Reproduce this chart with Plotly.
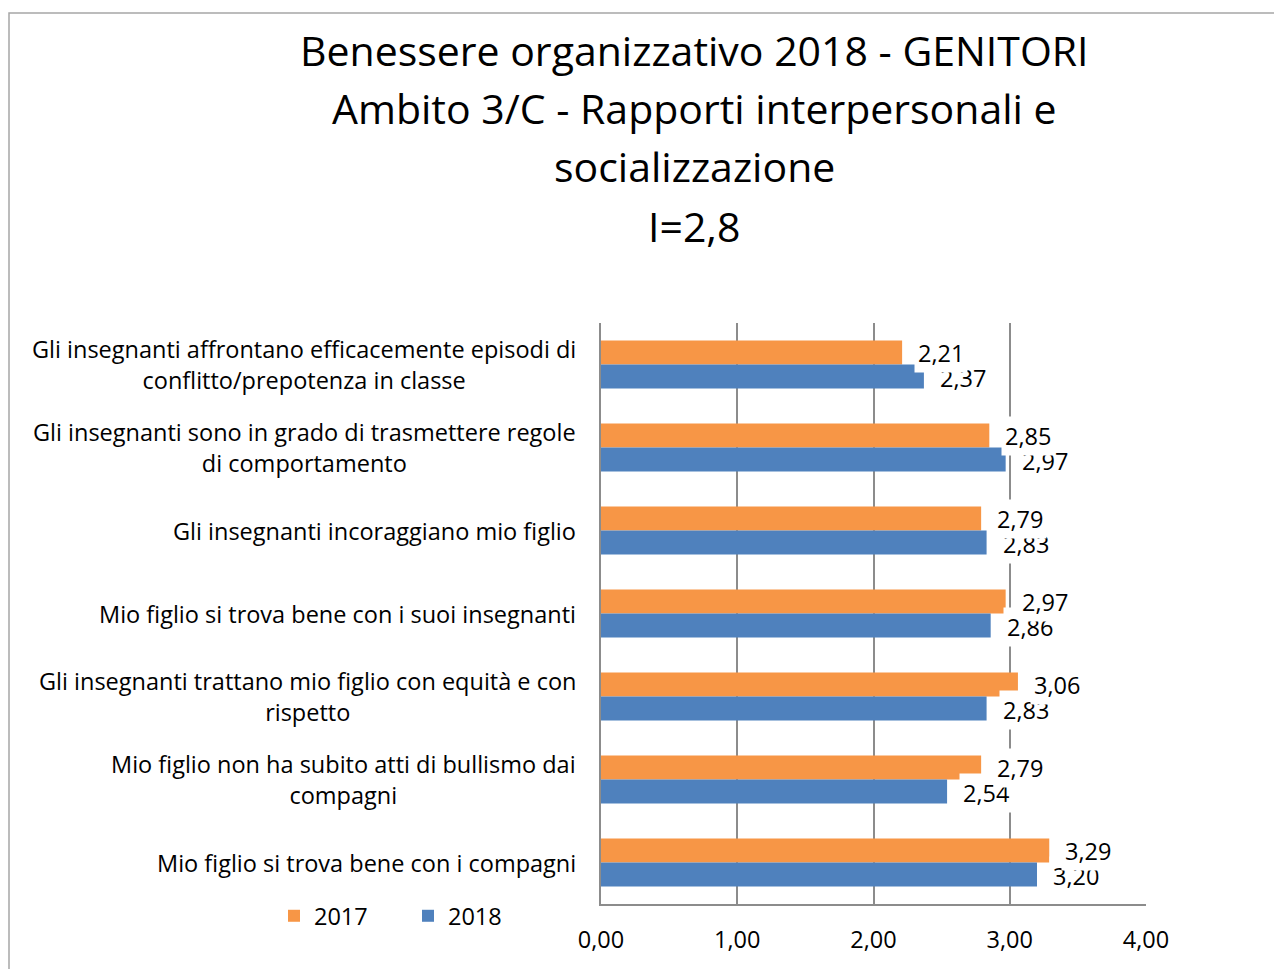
import plotly.graph_objects as go

categories = [
    "Gli insegnanti affrontano efficacemente episodi di<br>conflitto/prepotenza in classe",
    "Gli insegnanti sono in grado di trasmettere regole<br>di comportamento",
    "Gli insegnanti incoraggiano mio figlio",
    "Mio figlio si trova bene con i suoi insegnanti",
    "Gli insegnanti trattano mio figlio con equità e con<br>rispetto",
    "Mio figlio non ha subito atti di bullismo dai<br>compagni",
    "Mio figlio si trova bene con i compagni",
]
values_2017 = [2.21, 2.85, 2.79, 2.97, 3.06, 2.79, 3.29]
values_2018 = [2.37, 2.97, 2.83, 2.86, 2.83, 2.54, 3.20]
x_ticks = [0, 1, 2, 3, 4]
x_tick_labels = ["0,00", "1,00", "2,00", "3,00", "4,00"]
title_lines = [
    "Benessere organizzativo 2018 - GENITORI",
    "Ambito 3/C - Rapporti interpersonali e",
    "socializzazione",
    "I=2,8",
]

ORANGE = "#F79646"
BLUE = "#4F81BD"
FONT = "'Open Sans', 'Noto Sans', sans-serif"
FS = 23.5

OFF = 8  # browser body margin
W, H = 1282 - OFF, 969 - OFF
L, R, T, B = 601 - OFF, 1146 - OFF, 323 - OFF, 904 - OFF


def py(p):
    return (B - (p - OFF)) / (B - T)


def px(p):
    return ((p - OFF) - L) / (R - L)


fig = go.Figure()
fig.add_trace(go.Bar(name="2017", y=categories, x=values_2017, orientation="h",
                     marker=dict(color=ORANGE, line=dict(width=0))))
fig.add_trace(go.Bar(name="2018", y=categories, x=values_2018, orientation="h",
                     marker=dict(color=BLUE, line=dict(width=0))))

annotations = []
fmt = lambda v: f"{v:.2f}".replace(".", ",")
# blue labels first so orange label boxes overlap them
for cat, v in zip(categories, values_2018):
    annotations.append(dict(x=v, y=cat, xref="x", yref="y", text=fmt(v), showarrow=False,
                            xanchor="left", yshift=-13, xshift=12, bgcolor="white",
                            borderpad=3, font=dict(family=FONT, size=FS, color="black")))
for cat, v in zip(categories, values_2017):
    annotations.append(dict(x=v, y=cat, xref="x", yref="y", text=fmt(v), showarrow=False,
                            xanchor="left", yshift=12, xshift=12, bgcolor="white",
                            borderpad=3, font=dict(family=FONT, size=FS, color="black")))

# category labels (centered multi-line, right edge near axis)
for cat in categories:
    annotations.append(dict(x=px(578), y=cat, xref="paper", yref="y", text=cat,
                            showarrow=False, xanchor="right", yanchor="middle",
                            align="center", font=dict(family=FONT, size=FS, color="black")))

title_y = [50, 108, 166, 226]
for t, yy in zip(title_lines, title_y):
    annotations.append(dict(x=px(694), y=py(yy), xref="paper", yref="paper", text=t,
                            showarrow=False, xanchor="center", yanchor="middle",
                            font=dict(family=FONT, size=41, color="black")))

fig.update_layout(
    width=W, height=H,
    margin=dict(l=L, r=W - R, t=T, b=H - B, pad=0),
    paper_bgcolor="white", plot_bgcolor="white",
    barmode="group", bargap=0.42, bargroupgap=0,
    separators=",.",
    font=dict(family=FONT, size=FS, color="black"),
    showlegend=True,
    legend=dict(orientation="h", x=px(274), y=py(916), xanchor="left", yanchor="middle",
                font=dict(family=FONT, size=FS, color="black"),
                entrywidth=89, entrywidthmode="pixels", traceorder="normal",
                bgcolor="rgba(0,0,0,0)"),
    annotations=annotations,
    shapes=[dict(type="rect", xref="paper", yref="paper", x0=px(9), x1=px(1400),
                 y0=py(1100), y1=py(13), line=dict(color="#a6a6a6", width=1.5),
                 fillcolor="rgba(0,0,0,0)", layer="below")],
)
fig.update_xaxes(range=[0, 4], tickvals=x_ticks, ticktext=x_tick_labels,
                 showgrid=True, gridcolor="#8c8c8c", gridwidth=1.5,
                 showline=True, linecolor="#8c8c8c", linewidth=1.5,
                 zeroline=False, ticks="outside", ticklen=14, tickcolor="rgba(0,0,0,0)",
                 tickfont=dict(family=FONT, size=FS, color="black"), fixedrange=True)
fig.update_yaxes(autorange="reversed", showgrid=False, showline=True,
                 linecolor="#8c8c8c", linewidth=1.5, showticklabels=False, ticks="")

fig.write_html("out.html")
